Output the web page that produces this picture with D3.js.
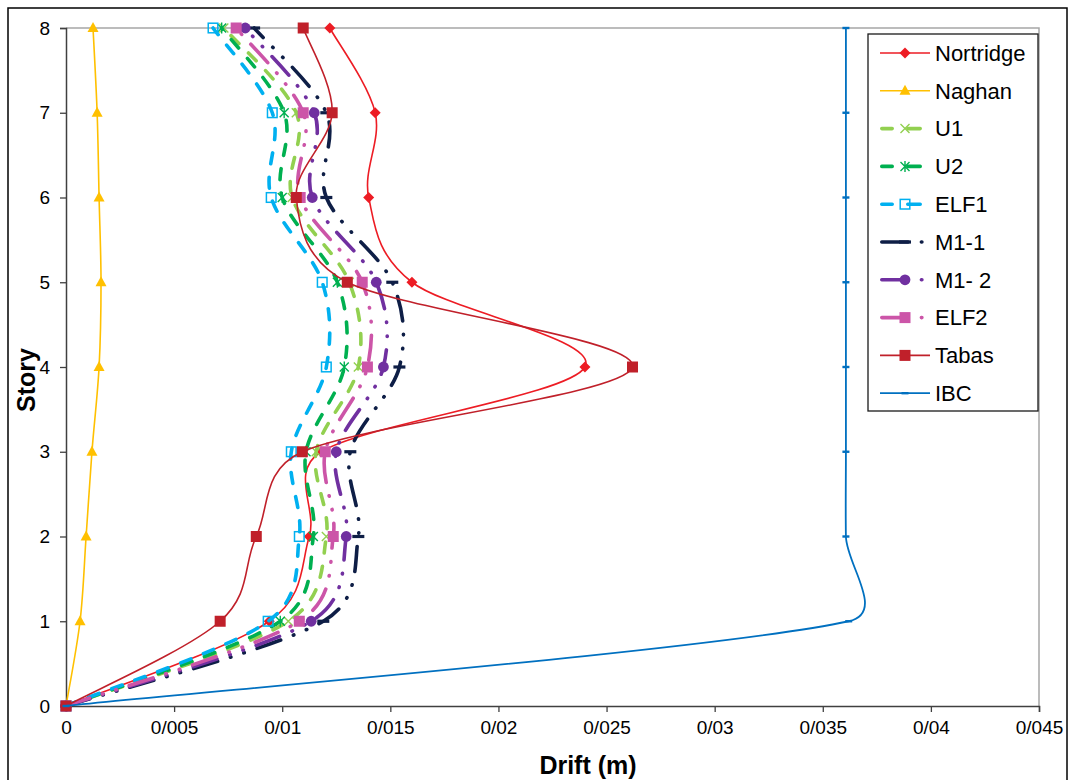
<!DOCTYPE html>
<html><head><meta charset="utf-8">
<script src="https://cdn.jsdelivr.net/npm/d3@7"></script>
<style>
body{margin:0;background:#fff}
svg{display:block}
text{font-family:"Liberation Sans",Arial,sans-serif;fill:#000}
</style>
</head><body>
<svg id="chart" width="1069" height="780"></svg>
<script>
// ---------- data ----------
const stories = [0, 1, 2, 3, 4, 5, 6, 7, 8];
const xTickValues = [0, 0.005, 0.01, 0.015, 0.02, 0.025, 0.03, 0.035, 0.04, 0.045];
const xTickLabels = ["0", "0/005", "0/01", "0/015", "0/02", "0/025", "0/03", "0/035", "0/04", "0/045"];
const yTickValues = [0, 1, 2, 3, 4, 5, 6, 7, 8];
const seriesNames = ["Nortridge", "Naghan", "U1", "U2", "ELF1", "M1-1", "M1- 2", "ELF2", "Tabas", "IBC"];

const nortridge = [0, 0.0094, 0.01125, 0.0118, 0.0240, 0.0160, 0.0140, 0.0143, 0.0122];
const naghan    = [0, 0.00065, 0.00093, 0.0012, 0.00153, 0.00162, 0.00153, 0.00144, 0.00125];
const u1        = [0, 0.01028, 0.01204, 0.01157, 0.01352, 0.0131, 0.01046, 0.01065, 0.0073];
const u2        = [0, 0.00991, 0.01144, 0.0111, 0.01287, 0.01255, 0.0100, 0.01009, 0.0072];
const elf1      = [0, 0.00935, 0.01079, 0.01042, 0.01204, 0.01185, 0.00949, 0.00954, 0.0068];
const m1_1      = [0, 0.0119, 0.01352, 0.01315, 0.01542, 0.01509, 0.01204, 0.01204, 0.0087];
const m1_2      = [0, 0.01134, 0.01296, 0.0125, 0.01468, 0.01435, 0.01139, 0.01148, 0.00829];
const elf2      = [0, 0.01079, 0.01236, 0.01199, 0.01394, 0.0137, 0.01083, 0.01097, 0.00787];
const tabas     = [0, 0.00713, 0.0088, 0.01093, 0.0262, 0.01301, 0.01065, 0.01231, 0.01097];
const ibc       = [0, 0.0362, 0.03607, 0.03607, 0.03607, 0.03607, 0.03607, 0.03607, 0.03607];

const seriesValues = [nortridge, naghan, u1, u2, elf1, m1_1, m1_2, elf2, tabas, ibc];

// ---------- styles ----------
const DASH = "11,13.5";
const LDDD = "25,13.5,0.5,13.5,0.5,13.5";
const LEG_DASH = "10.4,15.6,12.4,100";
const LEG_LDDD = "26.4,13.2,0.5,100";
const styles = {
  "Nortridge": {color: "#ED1C24", width: 1.6, dash: null, leg: null, marker: "diamond"},
  "Naghan":    {color: "#FFC000", width: 1.6, dash: null, leg: null, marker: "triangle"},
  "U1":        {color: "#92D050", width: 3.6, dash: DASH, leg: LEG_DASH, marker: "x"},
  "U2":        {color: "#00B050", width: 3.6, dash: DASH, leg: LEG_DASH, marker: "star"},
  "ELF1":      {color: "#00B0F0", width: 3.6, dash: DASH, leg: LEG_DASH, marker: "hsquare"},
  "M1-1":      {color: "#0E1E46", width: 3.6, dash: LDDD, leg: LEG_LDDD, marker: "dash"},
  "M1- 2":     {color: "#7030A0", width: 3.6, dash: LDDD, leg: LEG_LDDD, marker: "circle"},
  "ELF2":      {color: "#CC55A8", width: 3.6, dash: LDDD, leg: LEG_LDDD, marker: "square"},
  "Tabas":     {color: "#C0202A", width: 1.6, dash: null, leg: null, marker: "square"},
  "IBC":       {color: "#0070C0", width: 1.8, dash: null, leg: null, marker: "smalldash"}
};

// ---------- smoothing curve (spreadsheet-style bezier) ----------
function SmoothCurve(context) { this._context = context; }
SmoothCurve.prototype = {
  areaStart() { this._line = 0; },
  areaEnd() { this._line = NaN; },
  lineStart() { this._pts = []; },
  point(px, py) { this._pts.push([+px, +py]); },
  lineEnd() {
    const p = this._pts, n = p.length, c = this._context;
    if (!n) return;
    c.moveTo(p[0][0], p[0][1]);
    const dist = (a, b) => Math.hypot(a[0] - b[0], a[1] - b[1]);
    for (let i = 0; i < n - 1; i++) {
      const p0 = p[Math.max(0, i - 1)], p1 = p[i], p2 = p[i + 1], p3 = p[Math.min(n - 1, i + 2)];
      const d01 = dist(p0, p1), d12 = dist(p1, p2), d23 = dist(p2, p3);
      const s1 = d01 > 0 ? Math.min(1, 3 * d12 / (d01 + d12)) : 1;
      const s2 = d23 > 0 ? Math.min(1, 3 * d12 / (d12 + d23)) : 1;
      c.bezierCurveTo(
        p1[0] + (p2[0] - p0[0]) / 6 * s1, p1[1] + (p2[1] - p0[1]) / 6 * s1,
        p2[0] - (p3[0] - p1[0]) / 6 * s2, p2[1] - (p3[1] - p1[1]) / 6 * s2,
        p2[0], p2[1]);
    }
  }
};
const curveSmooth = ctx => new SmoothCurve(ctx);

// ---------- layout ----------
const svg = d3.select("#chart");
const plot = {left: 66, right: 1039, top: 28, bottom: 706};

const x = d3.scaleLinear().domain([0, 0.045]).range([plot.left, plot.right]);
const y = d3.scaleLinear().domain([0, 8]).range([plot.bottom, plot.top]);

// outer frame
svg.append("rect").attr("x", 8).attr("y", 8).attr("width", 1059).attr("height", 800)
  .attr("fill", "#fff").attr("stroke", "#000").attr("stroke-width", 1.5);

// plot border (top/right grey)
svg.append("path")
  .attr("d", `M${plot.left},${plot.top}H${plot.right}V${plot.bottom}`)
  .attr("fill", "none").attr("stroke", "#a6a6a6").attr("stroke-width", 1.5);

// axes
const xAxis = d3.axisBottom(x).tickValues(xTickValues)
  .tickFormat((d, i) => xTickLabels[i]).tickSizeOuter(0).tickSize(6).tickPadding(9);
const gx = svg.append("g").attr("transform", `translate(0,${plot.bottom})`).call(xAxis);

const yAxis = d3.axisLeft(y).tickValues(yTickValues).tickFormat(d3.format("d"))
  .tickSizeOuter(0).tickSize(6).tickPadding(10);
const gy = svg.append("g").attr("transform", `translate(${plot.left},0)`).call(yAxis);

[gx, gy].forEach(g => {
  g.select(".domain").attr("stroke", "#404040").attr("stroke-width", 1.5);
  g.selectAll(".tick line").attr("stroke", "#404040").attr("stroke-width", 1.3);
  g.selectAll("text").attr("fill", "#000").attr("font-size", 19)
    .attr("font-family", '"Liberation Sans",Arial,sans-serif');
});

// axis titles
svg.append("text").attr("x", 588).attr("y", 774).attr("text-anchor", "middle")
  .attr("font-size", 25).attr("font-weight", "bold").text("Drift (m)");
svg.append("text").attr("transform", "translate(35,380) rotate(-90)").attr("text-anchor", "middle")
  .attr("font-size", 25).attr("font-weight", "bold").text("Story");

// ---------- markers ----------
function drawMarker(g, type, color, cx, cy) {
  const m = g.append("g").attr("transform", `translate(${cx},${cy})`);
  switch (type) {
    case "diamond":
      m.append("path").attr("d", "M0,-5.5L5.5,0L0,5.5L-5.5,0Z").attr("fill", color); break;
    case "triangle":
      m.append("path").attr("d", "M0,-6L5.5,4L-5.5,4Z").attr("fill", color); break;
    case "x":
      m.append("path").attr("d", "M-4.5,-4.5L4.5,4.5M-4.5,4.5L4.5,-4.5")
        .attr("stroke", color).attr("stroke-width", 1.4).attr("fill", "none"); break;
    case "star":
      m.append("path").attr("d", "M-4.5,-4.5L4.5,4.5M-4.5,4.5L4.5,-4.5M0,-5.5L0,5.5")
        .attr("stroke", color).attr("stroke-width", 1.4).attr("fill", "none"); break;
    case "hsquare":
      m.append("rect").attr("x", -4.8).attr("y", -4.8).attr("width", 9.6).attr("height", 9.6)
        .attr("fill", "none").attr("stroke", color).attr("stroke-width", 1.5); break;
    case "dash":
      m.append("rect").attr("x", -6).attr("y", -1.6).attr("width", 12).attr("height", 3.2)
        .attr("fill", color); break;
    case "circle":
      m.append("circle").attr("r", 5.4).attr("fill", color); break;
    case "square":
      m.append("rect").attr("x", -5.5).attr("y", -5.5).attr("width", 11).attr("height", 11)
        .attr("fill", color); break;
    case "smalldash":
      m.append("rect").attr("x", -3.5).attr("y", -1.2).attr("width", 7).attr("height", 2.4)
        .attr("fill", color); break;
  }
}

// ---------- series ----------
const line = d3.line()
  .x(d => x(d.v))
  .y(d => y(d.s))
  .curve(curveSmooth);

const seriesG = svg.append("g");
seriesNames.forEach((name, i) => {
  const st = styles[name];
  const pts = stories.map((s, j) => ({s: s, v: seriesValues[i][j]}));
  const g = seriesG.append("g");
  g.append("path").datum(pts).attr("d", line)
    .attr("fill", "none").attr("stroke", st.color).attr("stroke-width", st.width)
    .attr("stroke-dasharray", st.dash).attr("stroke-linecap", st.dash ? "round" : "butt")
    .attr("stroke-linejoin", "round");
  pts.forEach(p => drawMarker(g, st.marker, st.color, x(p.v), y(p.s)));
});

// ---------- legend ----------
const lg = svg.append("g");
lg.append("rect").attr("x", 868).attr("y", 34).attr("width", 170).attr("height", 377)
  .attr("fill", "#fff").attr("stroke", "#1a1a1a").attr("stroke-width", 1.3);
seriesNames.forEach((name, i) => {
  const st = styles[name];
  const cy = 53 + i * 37.8;
  const dashed = !!st.leg;
  lg.append("line").attr("x1", dashed ? 881.8 : 880).attr("x2", dashed ? 926 : 930)
    .attr("y1", cy).attr("y2", cy)
    .attr("stroke", st.color).attr("stroke-width", st.width)
    .attr("stroke-dasharray", st.leg).attr("stroke-linecap", dashed ? "round" : "butt");
  drawMarker(lg, st.marker, st.color, 905, cy);
  lg.append("text").attr("x", 935).attr("y", cy + 7.8).attr("font-size", 22).text(name);
});
</script>
</body></html>
